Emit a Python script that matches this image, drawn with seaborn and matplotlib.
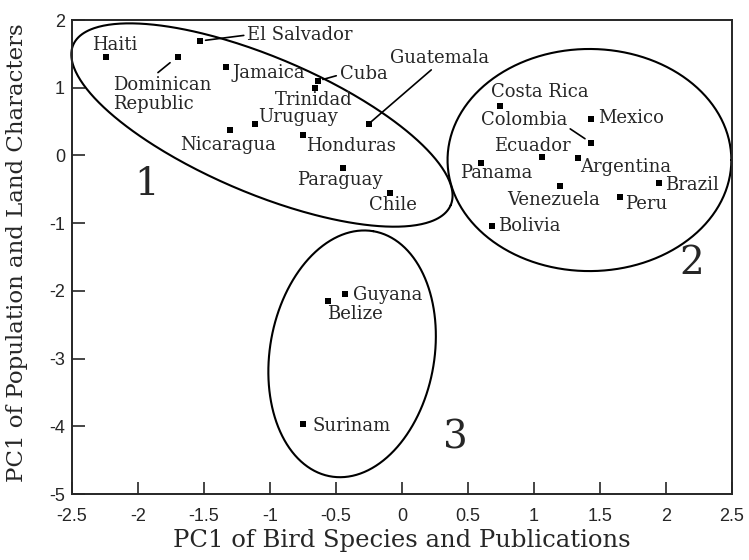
import numpy as np
import pandas as pd
import matplotlib
matplotlib.use("Agg")
import matplotlib.pyplot as plt
import seaborn as sns

# ---- data ----
countries = ["Haiti", "Dominican\nRepublic", "El Salvador", "Jamaica", "Cuba", "Trinidad",
             "Uruguay", "Nicaragua", "Honduras", "Guatemala", "Paraguay", "Chile",
             "Costa Rica", "Mexico", "Colombia", "Ecuador", "Argentina", "Panama",
             "Venezuela", "Peru", "Brazil", "Bolivia",
             "Guyana", "Belize", "Surinam"]
pc_birds = [-2.24, -1.70, -1.53, -1.33, -0.64, -0.66,
            -1.11, -1.30, -0.75, -0.25, -0.45, -0.09,
            0.74, 1.43, 1.43, 1.06, 1.33, 0.60,
            1.20, 1.65, 1.95, 0.68,
            -0.43, -0.56, -0.75]
pc_population = [1.46, 1.46, 1.69, 1.30, 1.10, 0.99,
                 0.47, 0.38, 0.30, 0.47, -0.18, -0.56,
                 0.73, 0.54, 0.19, -0.03, -0.04, -0.11,
                 -0.45, -0.61, -0.41, -1.04,
                 -2.05, -2.15, -3.97]

# label placement: (dx, dy) in pixels, horizontal alignment
label_dx = [8, -65, 47, 6, 22, -1, 3, -2.5, 3.5, 71, -2.7, 3,
            40, 7, -67, -10, 3, 15, -7, 5, 6, 6, 8, -1, 10]
label_dy = [12, -38, 6, -6, 7, -12, 6.5, -15, -11, 66, -12.5, -12,
            13.5, 0.5, 23, 11, -9, -10, -14.5, -7, -2, 0, -1, -13, -1.5]
label_ha = ["center", "left", "left", "left", "left", "center", "left", "center", "left",
            "center", "center", "center", "center", "left", "center", "center", "left",
            "center", "center", "left", "left", "left", "left", "left", "left"]
leader_relpos = {"Dominican\nRepublic": ((0.42, 1.0), 7),
                 "El Salvador": ((0.0, 0.5), 4),
                 "Cuba": ((0.0, 0.45), 4),
                 "Guatemala": ((0.45, 0.0), 1.5),
                 "Colombia": ((0.97, 0.2), 5)}

# cluster ellipses: centre and two half-axis vectors (data units)
ell_centers = [(-1.061, 0.449), (1.42, -0.068), (-0.378, -2.93)]
ell_axis1 = [(1.430, -1.183), (1.075, 0.0), (0.16, 1.811)]
ell_axis2 = [(-0.2015, -0.9246), (0.0, 1.64), (0.614, -0.20)]
group_names = ["1", "2", "3"]
group_x = [-1.936, 2.197, 0.402]
group_y = [-0.43, -1.59, -4.18]

xticks = [-2.5, -2, -1.5, -1, -0.5, 0, 0.5, 1, 1.5, 2, 2.5]
yticks = [-5, -4, -3, -2, -1, 0, 1, 2]

df = pd.DataFrame({"country": countries, "x": pc_birds, "y": pc_population})

sns.set_style("ticks")
plt.rcParams["font.family"] = ["DejaVu Serif"]

fig = plt.figure(figsize=(7.49, 5.60), dpi=100)
ax = fig.add_axes([72 / 749, 1 - 494 / 560, 660 / 749, 474 / 560])

sns.scatterplot(data=df, x="x", y="y", marker="s", color="black", s=18,
                linewidth=0, ax=ax, zorder=3)

ax.set_xlim(-2.5, 2.5)
ax.set_ylim(-5, 2)
ax.set_xticks(xticks)
ax.set_yticks(yticks)
ax.set_xticklabels([f"{t:g}" for t in xticks])
ax.set_yticklabels([f"{t:g}" for t in yticks])
tick_font = ["Liberation Sans Narrow", "Liberation Sans", "DejaVu Sans"]
for lab in ax.get_xticklabels() + ax.get_yticklabels():
    lab.set_family(tick_font)
    lab.set_fontsize(13)
ax.tick_params(axis="x", direction="in", length=9, width=1.2, pad=10, top=False)
ax.tick_params(axis="y", direction="in", length=9, width=1.2, pad=5, right=False)
for sp in ax.spines.values():
    sp.set_linewidth(1.4)
    sp.set_visible(True)

ax.set_xlabel("PC1 of Bird Species and Publications", fontsize=17.5)
ax.set_ylabel("PC1 of Population and Land Characters", fontsize=16.5)
ax.xaxis.set_label_coords(0.5, -0.074)
ax.yaxis.set_label_coords(-0.066, 0.51)

for name, xv, yv, dx, dy, ha in zip(countries, pc_birds, pc_population,
                                    label_dx, label_dy, label_ha):
    kw = {}
    if name in leader_relpos:
        rp, shr = leader_relpos[name]
        kw["arrowprops"] = dict(arrowstyle="-", color="black", lw=1.2,
                                relpos=rp, shrinkA=0, shrinkB=shr)
    ax.annotate(name, xy=(xv, yv), xytext=(dx, dy), textcoords="offset pixels",
                ha=ha, va="center", fontsize=13, linespacing=1.1, **kw)

t = np.linspace(0, 2 * np.pi, 400)
for (cx, cy), (a1x, a1y), (a2x, a2y) in zip(ell_centers, ell_axis1, ell_axis2):
    ex = cx + a1x * np.cos(t) + a2x * np.sin(t)
    ey = cy + a1y * np.cos(t) + a2y * np.sin(t)
    ax.plot(ex, ey, color="black", lw=1.5, clip_on=False, zorder=2)

for g, gx, gy in zip(group_names, group_x, group_y):
    ax.text(gx, gy, g, fontsize=28, ha="center", va="center")

fig.savefig("out.png", dpi=100)
